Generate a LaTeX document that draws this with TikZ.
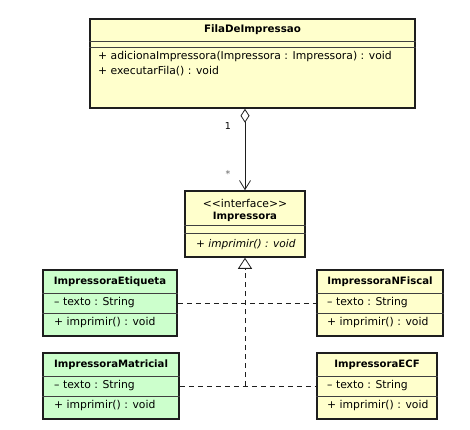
\documentclass[tikz,border=0pt]{standalone}
\usepackage{fontspec}
\setmainfont{DejaVu Sans}
\usetikzlibrary{arrows.meta}

\definecolor{umlyellow}{RGB}{255,255,204}
\definecolor{umlgreen}{RGB}{204,255,204}
\definecolor{umlborder}{RGB}{30,30,30}

\tikzset{
  classbox/.style={draw=umlborder, line width=1.5pt, inner sep=0pt},
  yellowbox/.style={classbox, fill=umlyellow},
  greenbox/.style={classbox, fill=umlgreen},
  divider/.style={draw=umlborder!85, line width=0.8pt},
  classname/.style={font=\bfseries\fontsize{10.1}{12}\selectfont, inner sep=0pt},
  member/.style={font=\fontsize{10.8}{12}\selectfont, anchor=west, inner sep=0pt},
  aggr/.style={draw=umlborder, line width=0.8pt,
    {Diamond[open, length=14pt, width=9pt]}-{Straight Barb[length=9pt, width=11pt]}},
  realize/.style={draw=umlborder, line width=0.8pt, dash pattern=on 5pt off 4pt},
  mult/.style={font=\fontsize{9.5}{10}\selectfont, inner sep=0pt}
}

\begin{document}
\begin{tikzpicture}[x=1pt, y=-1pt]
  \useasboundingbox (0,0) rectangle (470,429);

  % FilaDeImpressao
  \node[yellowbox, minimum width=325pt, minimum height=89pt] (fila) at (252.5,63.5) {};
  \draw[divider] (fila.west |- 0,41) -- (fila.east |- 0,41);
  \draw[divider] (fila.west |- 0,47) -- (fila.east |- 0,47);
  \node[classname, font=\bfseries\fontsize{10.3}{12}\selectfont] (filaname) at (252.5,30) {FilaDeImpressao};
  \node[member] (filaop1) at (98,57) {+ adicionaImpressora(Impressora : Impressora) : void};
  \node[member] (filaop2) at (98,71) {+ executarFila() : void};

  % interface Impressora
  \node[yellowbox, minimum width=120pt, minimum height=66pt] (iface) at (245,224) {};
  \draw[divider] (iface.west |- 0,225) -- (iface.east |- 0,225);
  \draw[divider] (iface.west |- 0,233) -- (iface.east |- 0,233);
  \node[member, anchor=center] (ifacestereo) at (245,203) {{<}{<}interface{>}{>}};
  \node[classname] (ifacename) at (245,217) {Impressora};
  \node[member, font=\itshape\fontsize{10.6}{12}\selectfont] (ifaceop) at (196,245) {+ imprimir() : void};

  % ImpressoraEtiqueta
  \node[greenbox, minimum width=134pt, minimum height=66pt] (etq) at (110,303) {};
  \draw[divider] (etq.west |- 0,293) -- (etq.east |- 0,293);
  \draw[divider] (etq.west |- 0,313) -- (etq.east |- 0,313);
  \node[classname] (etqname) at (110,282) {ImpressoraEtiqueta};
  \node[member] (etqattr) at (54,303) {– texto : String};
  \node[member] (etqop) at (54,323) {+ imprimir() : void};

  % ImpressoraMatricial
  \node[greenbox, minimum width=136pt, minimum height=66pt] (mat) at (111,386) {};
  \draw[divider] (mat.west |- 0,376) -- (mat.east |- 0,376);
  \draw[divider] (mat.west |- 0,396) -- (mat.east |- 0,396);
  \node[classname] (matname) at (111,365) {ImpressoraMatricial};
  \node[member] (matattr) at (54,386) {– texto : String};
  \node[member] (matop) at (54,406) {+ imprimir() : void};

  % ImpressoraNFiscal
  \node[yellowbox, minimum width=126pt, minimum height=66pt] (nfis) at (380,303) {};
  \draw[divider] (nfis.west |- 0,293) -- (nfis.east |- 0,293);
  \draw[divider] (nfis.west |- 0,313) -- (nfis.east |- 0,313);
  \node[classname] (nfisname) at (380,282) {ImpressoraNFiscal};
  \node[member] (nfisattr) at (327,303) {– texto : String};
  \node[member] (nfisop) at (327,323) {+ imprimir() : void};

  % ImpressoraECF
  \node[yellowbox, minimum width=120pt, minimum height=66pt] (ecf) at (377,386) {};
  \draw[divider] (ecf.west |- 0,376) -- (ecf.east |- 0,376);
  \draw[divider] (ecf.west |- 0,396) -- (ecf.east |- 0,396);
  \node[classname] (ecfname) at (377,365) {ImpressoraECF};
  \node[member] (ecfattr) at (327,386) {– texto : String};
  \node[member] (ecfop) at (327,406) {+ imprimir() : void};

  % aggregation
  \draw[aggr] (fila.south -| iface.north) -- (iface.north);
  \node[mult] (multone) at (228,126) {1};
  \node[mult, text=black!60] (multmany) at (228,174) {*};

  % realizations
  \draw[realize] (etq.east |- etqattr) -- (nfis.west |- nfisattr);
  \draw[realize] (mat.east |- matattr) -- (ecf.west |- ecfattr);
  \coordinate (join) at (iface.south |- matattr);
  \draw[realize, -{Triangle[open, length=11pt, width=14pt]}] (join) -- (iface.south);
\end{tikzpicture}
\end{document}
